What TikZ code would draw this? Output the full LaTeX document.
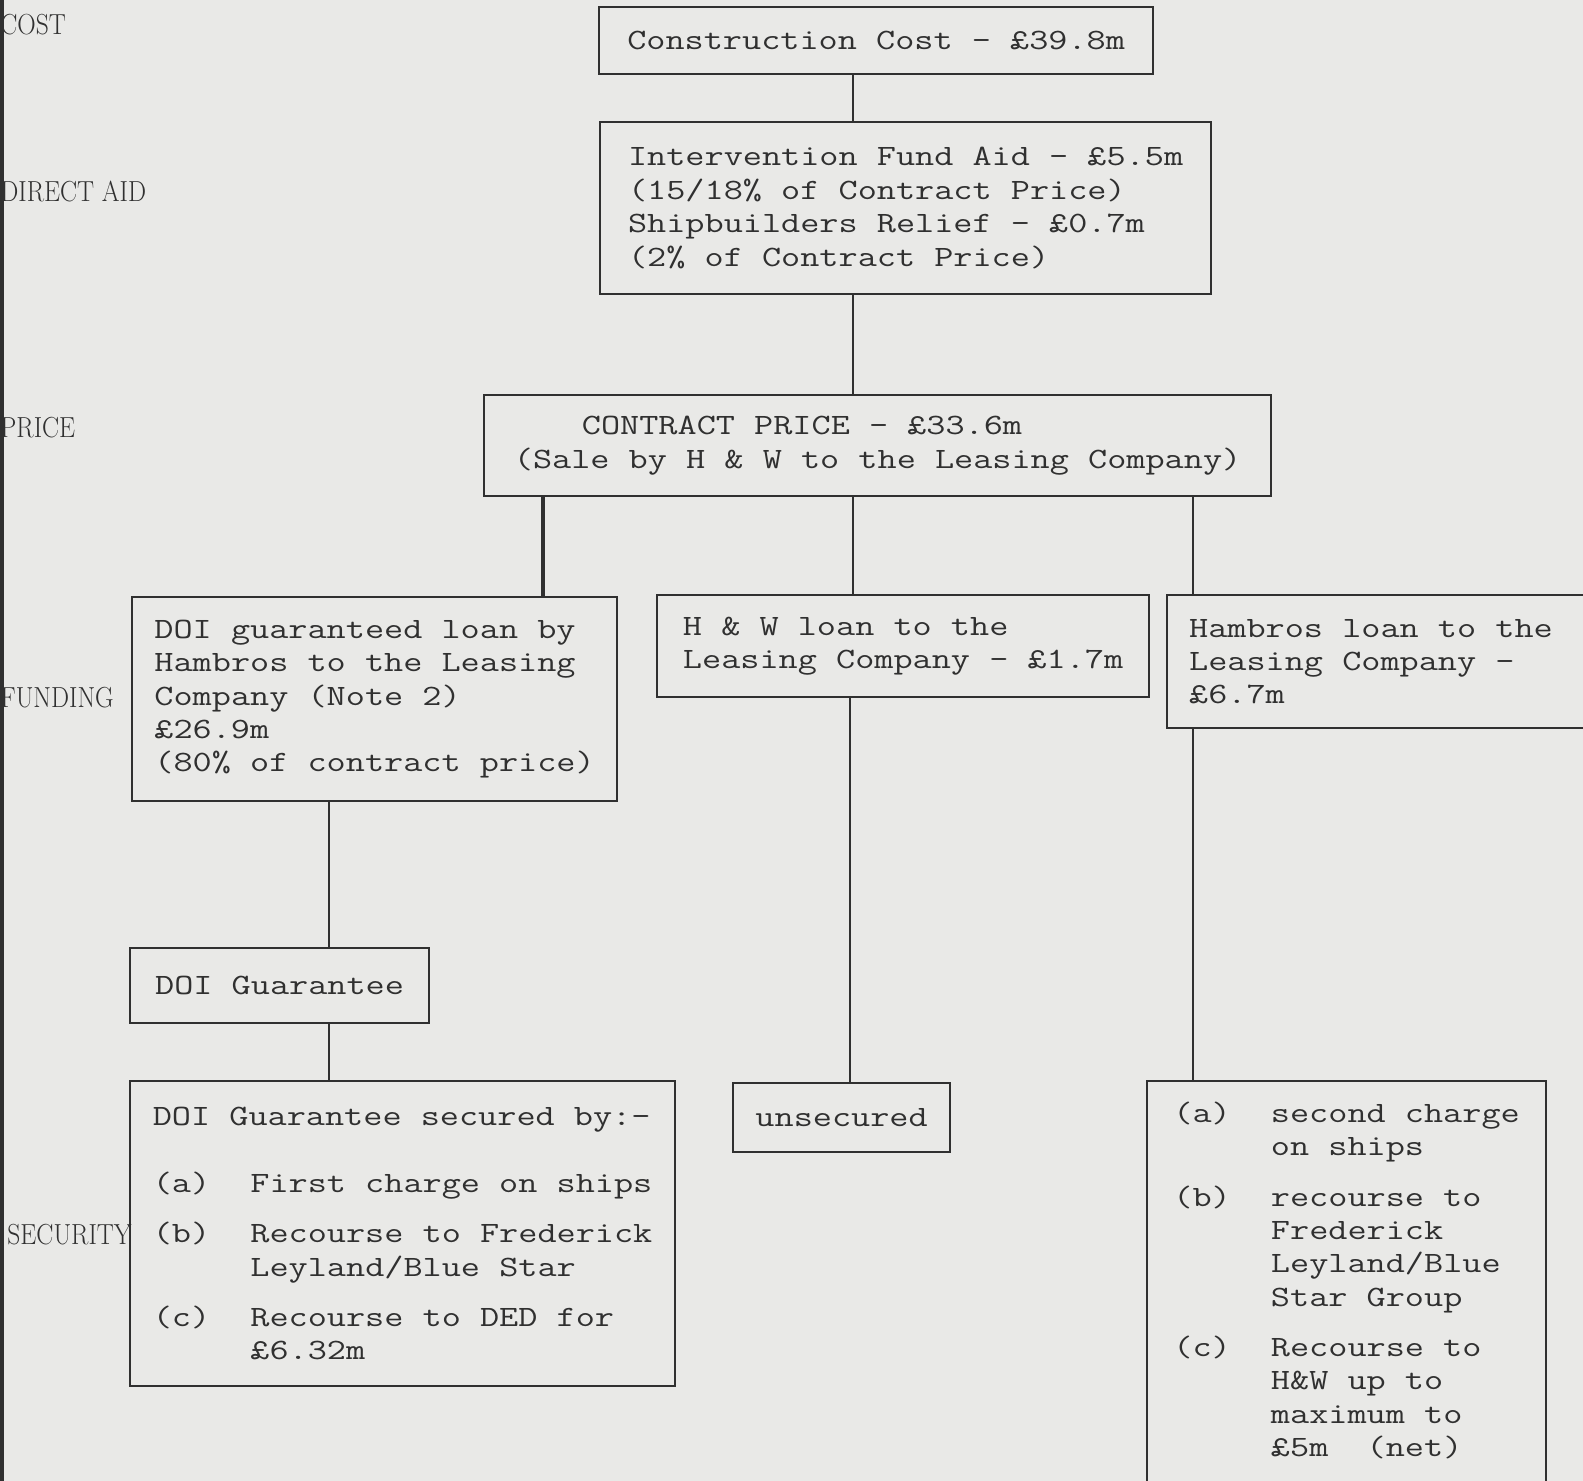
\documentclass[tikz,border=0pt]{standalone}
\usepackage{fontspec}
\newfontfamily\boxfamily{Latin Modern Mono}[FakeStretch=1.26]
\newfontfamily\sidefamily{Latin Modern Roman}[FakeStretch=0.88]

\definecolor{paper}{RGB}{233,233,231}
\definecolor{ink}{RGB}{48,48,48}
\newcommand{\boxfont}{\boxfamily\fontsize{14.75}{16.7}\selectfont}
\newcommand{\sidefont}{\sidefamily\fontsize{14.5}{16}\selectfont}
\newcommand{\itemlbl}[1]{\makebox[48.8pt][l]{#1}}

\tikzset{
  fbox/.style={draw=ink, line width=1.1pt, rectangle, inner sep=0pt, align=left,
    anchor=north west, text=ink, font=\boxfont},
  bw/.style={minimum width=#1*0.5pt},
  bh/.style={minimum height=#1*0.5pt},
  link/.style={draw=ink, line width=0.8pt},
  side/.style={anchor=base west, text=ink, font=\sidefont, inner sep=0pt}
}

\begin{document}
\begin{tikzpicture}[x=0.5pt, y=-0.5pt]
\useasboundingbox (0,0) rectangle (1583,1481);
\clip (0,0) rectangle (1583,1481);
\fill[paper] (0,0) rectangle (1583,1481);

% row labels in the margin
\foreach \t/\xx/\yy [count=\i] in {COST/0/35, DIRECT AID/0/202, PRICE/0/437, FUNDING/0/707, SECURITY/7/1244} {
    \node[side] (side\i) at (\xx,\yy) {\t};
}
\fill[ink] (0,0) rectangle (4,1481);

% cost, aid and price
\node[fbox, bw=554, bh=67] (cost) at (598,6) {Construction Cost - £39.8m};
\node[fbox, bw=611, bh=172] (aid) at (599,121) {Intervention Fund Aid - £5.5m\\(15/18\% of Contract Price)\\Shipbuilders Relief - £0.7m\\(2\% of Contract Price)};
\node[fbox, bw=787, bh=101] (price) at (483,394) {\hspace*{34pt}CONTRACT PRICE - £33.6m\\(Sale by H \& W to the Leasing Company)};

% funding
\node[fbox, bw=485, bh=204] (loan) at (131,596) {DOI guaranteed loan by\\Hambros to the Leasing\\Company (Note 2)\\£26.9m\\(80\% of contract price)};
\node[fbox, bw=492, bh=102] (hwloan) at (656,594) {H \& W loan to the\\Leasing Company - £1.7m};
\node[fbox, bh=133, inner xsep=11pt] (hbloan) at (1166,594) {Hambros loan to the\rule{40pt}{0pt}\\Leasing Company -\\£6.7m};

% security
\node[fbox, bw=299, bh=75] (guar) at (129,947) {DOI Guarantee};
\node[fbox, bw=545, bh=305] (secleft) at (129,1080) {DOI Guarantee secured by:-\\[16.7pt]
  \itemlbl{(a)}First charge on ships\\[8.35pt]
  \itemlbl{(b)}Recourse to Frederick\\ \itemlbl{}Leyland/Blue Star\\[8.35pt]
  \itemlbl{(c)}Recourse to DED for\\ \itemlbl{}£6.32m};
\node[fbox, bw=217, bh=69] (unsec) at (732,1082) {unsecured};
\node[fbox, bw=399, inner ysep=10.5pt] (secright) at (1146,1080) {\itemlbl{(a)}second charge\\ \itemlbl{}on ships\\[8.35pt]
  \itemlbl{(b)}recourse to\\ \itemlbl{}Frederick\\ \itemlbl{}Leyland/Blue\\ \itemlbl{}Star Group\\[8.35pt]
  \itemlbl{(c)}Recourse to\\ \itemlbl{}H\&W up to\\ \itemlbl{}maximum to\\ \itemlbl{}£5m\ \ (net)\\[20pt]~};

% connectors
\coordinate (xmid) at (853,0);
\coordinate (xhw) at (850,0);
\coordinate (xleft) at (329,0);
\coordinate (xright) at (1193,0);
\coordinate (xthick) at (543,0);
\foreach \a/\b/\c in {cost/aid/xmid, aid/price/xmid, price/hwloan/xmid, price/hbloan/xright,
    loan/guar/xleft, guar/secleft/xleft, hwloan/unsec/xhw, hbloan/secright/xright} {
    \draw[link] (\a.south -| \c) -- (\b.north -| \c);
}
\draw[link, line width=2pt] (price.south -| xthick) -- (loan.north -| xthick);
\end{tikzpicture}
\end{document}
